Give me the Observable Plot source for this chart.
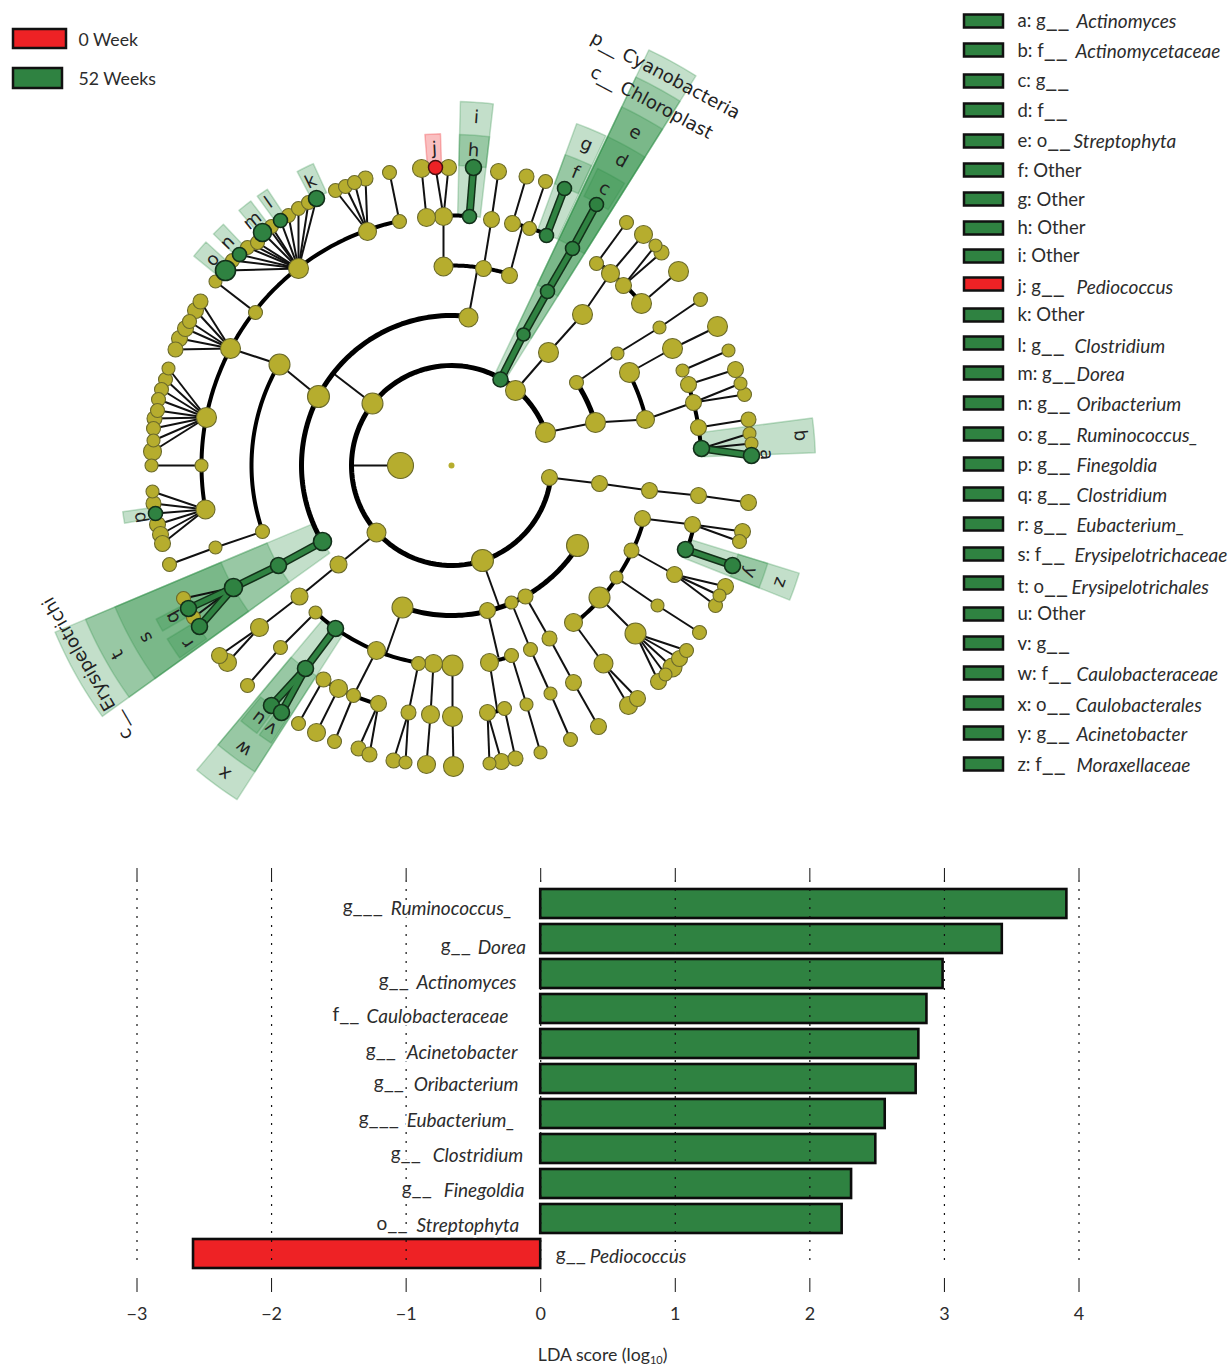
<!DOCTYPE html>
<html><head><meta charset="utf-8">
<script src="https://cdn.jsdelivr.net/npm/d3@7"></script>
<script src="https://cdn.jsdelivr.net/npm/@observablehq/plot@0.6"></script>
<style>html,body{margin:0;padding:0;background:#fff}svg{display:block}</style>
</head><body><div id="clado"></div><div id="bars"></div>
<script>
// ---------- colours
const OLIVE="#b6ad2e", GREEN="#2f8241", RED="#ee2225", WEDGE="#2f9148";
// ---------- LDA bars
const barNames=["Ruminococcus_","Dorea","Actinomyces","Caulobacteraceae","Acinetobacter","Oribacterium","Eubacterium_","Clostridium","Finegoldia","Streptophyta","Pediococcus"];
const barPrefix=["g___","g__","g__","f__","g__","g__","g___","g__","g__","o__","g__"];
const barScores=[3.91,3.43,2.99,2.87,2.81,2.79,2.56,2.49,2.31,2.24,-2.58];
const prefixAt=[-1.472,-.743,-1.204,-1.547,-1.30,-1.24,-1.353,-1.115,-1.033,-1.22,.112];
const nameAt=[-1.115,-.468,-.923,-1.294,-.996,-.944,-.996,-.803,-.721,-.923,.364];
const labelDrop=[5,9,9,8,9,6,7,7,7,7,3];
const scoreTicks=[-3,-2,-1,0,1,2,3,4];
// ---------- legends
const groupNames=["0 Week","52 Weeks"];
const legendKeys=["a: g__","b: f__","c: g__","d: f__","e: o__","f: Other","g: Other","h: Other","i: Other","j: g__","k: Other","l: g__","m: g__","n: g__","o: g__","p: g__","q: g__","r: g__","s: f__","t: o__","u: Other","v: g__","w: f__","x: o__","y: g__","z: f__"];
const legendTaxa=["Actinomyces","Actinomycetaceae","","","Streptophyta","","","","","Pediococcus","","Clostridium","Dorea","Oribacterium","Ruminococcus_","Finegoldia","Clostridium","Eubacterium_","Erysipelotrichaceae","Erysipelotrichales","","","Caulobacteraceae","Caulobacterales","Acinetobacter","Moraxellaceae"];
const legendTaxaX=[1076,1075,0,0,1073,0,0,0,0,1076,0,1074,1076,1076,1076,1076,1076,1076,1074,1071,0,0,1076,1075,1076,1076];
const legendSwatchY=[21,50,81,110,141,170,199,228,256,284,315,343,373,403,434,464,494,524,554,583,614,643,673,703,733,764];
const legendTextY=[21,51,81,111,141,171,200,228,256,287,315,346,374,404,435,465,495,525,555,587,614,644,674,705,734,765];
// ---------- cladogram: nodes on rings [x,y,r]
const CX=451, CY=465;
const ringNodes=[[372,403,10.5],[515,390,10],[545,432,10],[549,477,8],[482,560,11],[376,532,9.5],
[318,396,11],[468,317,9.5],[402,607,10.5],[487,610,8],[511,602,6.5],[525,596,7.5],[577,545,11],[595,422,10],[576,382,7],
[443,266,9.5],[483,268,8],[509,275,8],[645,419,9],[629,372,10],[262,531,7],[376,650,9],[418,663,7],[433,663,9],[452,665,10.5],[489,662,9],[511,655,7],[573,622,9],[599,597,10.5],[616,577,6.5],[631,550,7.5],[642,518,8],[315,612,6.5],
[206,417,10],[230,348,10],[255,312,7],[298,268,10],[367,231,9],[399,221,7],[201,465,6.5],[205,509,9.5],[443,216,9],[426,217,9],[512,223,8],[529,228,7],[323,679,7.5],[338,688,9],[353,695,7],[378,703,8],[487,712,8],[504,708,7],[596,263,7],[610,273,9],[623,285,8],[641,303,10],[682,370,6.5],[688,384,8],[693,402,8],[698,427,8],[692,524,8]];
// ---------- thin branches: parent x,y then children [x,y,r] (r 0 = a joint on a ring)
const fans=[
[350,465,[[400,465,13]]],[372,403,[[333,373,0]]],[318,396,[[279,364,10.5]]],[279,364,[[230,348,0]]],[255,312,[[215,281,6.5]]],
[298,268,[[232,260,7],[247,247,7],[257,242,7],[288,215,7],[298,208,7],[308,202,7],[271,226,7],[252,244,0],[270,230,0],[225,270,0],[239,254,0],[262,232,0],[280,220,0],[316,198,0]]],
[230,348,[[175,349,7.5],[179,338,8],[185,328,8],[189,321,7],[195,310,8],[200,301,7.5]]],
[206,417,[[168,368,6.5],[165,379,7],[161,389,7],[158,399,7],[157,410,7],[154,418,7.5],[153,428,7],[153,440,6.5],[152,451,9]]],
[201,465,[[151,465,6.5]]],
[205,509,[[152,491,6.5],[153,503,7.5],[157,524,8],[160,534,8],[162,543,8],[155,513,0]]],
[262,531,[[215,547,6.5]]],[215,547,[[169,564,7]]],
[377,532,[[338,564,8.5]]],[338,564,[[299,596,8.5]]],[299,596,[[259,627,9]]],[259,627,[[219,655,8],[227,662,9]]],
[315,612,[[280,647,7]]],[280,647,[[247,685,7]]],
[233,587,[[183,598,7],[193,617,7]]],
[376,650,[[353,695,0]]],[323,679,[[298,723,7]]],[338,688,[[316,732,9]]],[353,695,[[334,741,7]]],[378,703,[[358,748,7.5],[369,754,7.5]]],
[418,663,[[408,712,7.5]]],[408,712,[[393,760,7.5],[405,762,6.5]]],[433,663,[[430,714,9]]],[430,714,[[426,764,9]]],[452,665,[[452,716,10]]],[452,716,[[453,766,10]]],
[402,607,[[385,655,0]]],[482,560,[[499,607,0]]],[487,610,[[498,657,0]]],[489,662,[[497,711,0]]],[487,712,[[489,763,6.5],[501,761,8]]],[504,708,[[515,758,7.5]]],
[511,655,[[526,704,6.5]]],[526,704,[[540,752,6.5]]],
[511,602,[[530,649,7]]],[530,649,[[550,693,6.5]]],[550,693,[[570,739,7]]],
[525,596,[[549,638,7.5]]],[549,638,[[573,682,8]]],[573,682,[[598,726,8]]],
[573,622,[[603,663,9.5]]],[603,663,[[628,705,9],[637,698,8]]],
[599,597,[[635,633,10.5]]],[635,633,[[686,650,7],[679,658,8],[672,667,9.5],[665,674,6.5],[658,681,8]]],
[616,577,[[657,605,6.5]]],[657,605,[[699,632,7]]],
[631,550,[[674,574,8]]],[674,574,[[725,586,8],[719,595,6.5],[715,605,7]]],
[642,518,[[692,524,0]]],[692,524,[[742,531,8],[739,541,7]]],
[549,477,[[599,483,8]]],[599,483,[[649,490,8]]],[649,490,[[698,495,8]]],[698,495,[[748,502,8]]],
[545,432,[[595,422,0]]],[595,422,[[645,419,0]]],[645,419,[[693,402,0]]],
[576,382,[[617,353,6.5]]],[617,353,[[659,327,6.5]]],[659,327,[[700,299,7]]],
[629,372,[[672,348,10]]],[672,348,[[717,326,10]]],[682,370,[[728,350,6.5]]],[688,384,[[735,369,8]]],[693,402,[[740,383,6.5],[744,394,7]]],
[698,427,[[748,419,7.5]]],[701,448,[[749,433,6.5],[751,443,6.5]]],
[515,390,[[548,352,10]]],[548,352,[[582,314,10]]],[582,314,[[610,273,0]]],[610,273,[[643,234,9]]],[596,263,[[626,222,7]]],[623,285,[[655,245,6.5],[661,252,7.5]]],[641,303,[[678,271,10]]],
[468,317,[[477,268,0]]],[483,268,[[491,219,8]]],[491,219,[[498,171,8]]],[509,275,[[522,226,0]]],[512,223,[[526,176,7.5]]],[529,228,[[545,181,7]]],
[443,266,[[443,216,0]]],[443,216,[[435,167,0],[448,167,8]]],[426,217,[[421,168,9]]],
[399,221,[[389,172,7]]],[367,231,[[335,190,7],[345,186,7],[354,182,7],[365,178,7.5]]]];
// ---------- thick ring arcs: radius, from x,y, to x,y, width
const ringArcs=[[100,545,432,372,403,5],[100,372,403,376,532,5],[100,376,532,549,477,5],
[150,468,317,318,396,5],[150,318,396,322,541,5],[150,402,607,525,596,5],[150,525,596,577,545,5],[150,595,422,576,382,5],
[200,279,364,262,531,4],[200,443,266,509,275,4],[200,315,612,452,665,4],[200,489,662,511,655,4],[200,573,622,642,518,4],[200,645,419,629,372,4],
[250,205,509,206,417,4],[250,206,417,399,221,4],[250,512,223,546,235,4],[250,323,679,378,703,4],[250,487,712,504,708,4],[250,596,263,641,303,4],[250,688,384,701,448,4],[250,692,524,685,549,4],[250,443,216,469,216,4]];
// ---------- enriched nodes and their branches
const greenNodes=[[500,379,7.5],[523,334,6.5],[547,291,7],[572,248,7],[596,204,7],[546,235,7],[564,188,7],[469,216,7],[473,167,8],[316,198,8],[280,220,7],[262,232,9],[239,254,7],[225,270,10],[155,513,7],[322,541,9],[278,565,8],[233,587,9],[188,608,8],[199,626,8],[335,628,8],[305,668,8],[271,705,8],[281,712,8],[685,549,8],[732,565,8],[701,448,8],[751,455,8]];
const redNodes=[[435,167,7]];
const greenLinks=[[500,379,523,334],[523,334,547,291],[547,291,572,248],[572,248,596,204],[546,235,564,188],[469,216,473,167],[322,541,278,565],[278,565,233,587],[233,587,188,608],[233,587,199,626],[335,628,305,668],[305,668,271,705],[305,668,281,712],[685,549,732,565],[701,448,751,455]];
// ---------- shaded sectors: first angle, last angle (deg), inner, outer radius, colour
const sectors=[[-64.6,-57.9,100,460,WEDGE],[-64.6,-57.9,150,430,WEDGE],[-64.6,-57.9,200,397,WEDGE],[-64.6,-57.9,250,364,WEDGE],[-63.8,-58.5,300,331,WEDGE],
[-69.9,-64.9,250,364,WEDGE],[-69.9,-65,300,331,WEDGE],[-88.6,-83.4,250,364,WEDGE],[-88.6,-83.4,300,331,WEDGE],[-94.6,-91.9,298,332,RED],
[-117.7,-114.6,300,332,WEDGE],[-125.8,-123.7,300,332,WEDGE],[-129.8,-127.2,300,332,WEDGE],[-135.8,-133.4,300,332,WEDGE],[-140.9,-137.7,300,332,WEDGE],[170,172,300,332,WEDGE],
[144.3,157.2,150,430,WEDGE],[144.3,157.2,200,397,WEDGE],[144.3,157.2,250,365,WEDGE],[150.2,152.5,300,333,WEDGE],[144.7,148.6,300,333,WEDGE],
[122.7,129.9,200,397,WEDGE],[122.7,129.9,250,364,WEDGE],[126,129.5,300,331,WEDGE],[123,125.5,300,331,WEDGE],
[17.2,21.7,250,364,WEDGE],[17.2,21.7,300,331,WEDGE],[-7.5,-2,250,364,WEDGE]];
// ---------- clade letters and long names
const cladeLetters=["a","b","c","d","e","f","g","h","i","j","k","l","m","n","o","p","q","r","s","t","u","v","w","x","y","z"];
const cladeLetterX=[766,800,604,621,635,575,586,473,476,434,310,268,252,227,212,139,172,187,145,117,258,270,243,224,750,780];
const cladeLetterY=[454,435,188,160,132,172,144,150,117,148,181,202,220,242,259,517,617,643,637,654,718,728,748,773,572,582];
const longLabels=["p__ Cyanobacteria","c__ Chloroplast","c__ Erysipelotrichi"];
const longX=[665,651,87], longY=[75,102,668], longRot=[28,28,240];

// ---------- derived tables
const nodeObj=([x,y,r])=>({x,y,r});
const oliveNodes=[...ringNodes,...fans.flatMap(f=>f[2].filter(c=>c[2]>0))].map(nodeObj);
const edges=fans.flatMap(([x1,y1,kids])=>kids.map(([x2,y2])=>({x1,y1,x2,y2})));
const polar=(r,a)=>({x:CX+r*Math.cos(a*Math.PI/180),y:CY+r*Math.sin(a*Math.PI/180)});
const angleOf=(x,y)=>Math.atan2(y-CY,x-CX)*180/Math.PI;
const arcPts=ringArcs.flatMap(([r,x0,y0,x1,y1,w],id)=>{
  const a0=angleOf(x0,y0);let d=angleOf(x1,y1)-a0;d=((d+540)%360)-180;
  return d3.range(0,41).map(i=>({...polar(r,a0+d*i/40),id,w}));
});
const sectorPts=sectors.flatMap(([a0,a1,r0,r1,color],id)=>{
  const n=Math.ceil(Math.abs(a1-a0));const as=d3.range(0,n+1).map(i=>a0+(a1-a0)*i/n);
  return [...as.map(a=>polar(r1,a)),...as.reverse().map(a=>polar(r0,a))].map(p=>({...p,id,color}));
});
const legendRows=legendKeys.map((key,i)=>({key,taxon:legendTaxa[i],tx:legendTaxaX[i],sy:legendSwatchY[i],ty:legendTextY[i],fill:key.startsWith("j")?RED:GREEN}));
const rows=barNames.map((name,i)=>({name,prefix:barPrefix[i],score:barScores[i],p:prefixAt[i],n:nameAt[i],drop:labelDrop[i],fill:barScores[i]<0?RED:GREEN}));
const TXT="#2c2c2c", UI="Lato", MPL="DejaVu Sans";
const link=(opts)=>Plot.link(greenLinks,{x1:d=>d[0],y1:d=>d[1],x2:d=>d[2],y2:d=>d[3],...opts});

const clado=Plot.plot({width:1228,height:830,margin:0,
  x:{domain:[0,1228],range:[0,1228],axis:null},
  y:{domain:[0,830],range:[0,830],axis:null},
  r:{type:"identity"},
  marks:[
    Plot.line(sectorPts,{x:"x",y:"y",z:"id",fill:"color",stroke:"color",fillOpacity:.29,strokeOpacity:.28,strokeWidth:1.5,curve:"linear-closed"}),
    Plot.link(edges,{x1:"x1",y1:"y1",x2:"x2",y2:"y2",stroke:"#111",strokeWidth:2}),
    Plot.line(arcPts,{x:"x",y:"y",z:"id",strokeWidth:"w",stroke:"#000",curve:"linear"}),
    link({stroke:"#123018",strokeWidth:8}),
    link({stroke:GREEN,strokeWidth:5}),
    Plot.dot(oliveNodes,{x:"x",y:"y",r:"r",fill:OLIVE,stroke:"#6b6a2a",strokeWidth:1.1}),
    Plot.dot([{x:CX,y:CY,r:3}],{x:"x",y:"y",r:"r",fill:OLIVE}),
    Plot.dot(greenNodes.map(nodeObj),{x:"x",y:"y",r:"r",fill:GREEN,stroke:"#12301a",strokeWidth:1.6}),
    Plot.dot(redNodes.map(nodeObj),{x:"x",y:"y",r:"r",fill:RED,stroke:"#4a1010",strokeWidth:1.5}),
    Plot.text(cladeLetters,{x:(d,i)=>cladeLetterX[i],y:(d,i)=>cladeLetterY[i],text:d=>d,
      rotate:(d,i)=>angleOf(cladeLetterX[i],cladeLetterY[i])+90,fontFamily:MPL,fontSize:18,fill:"#222"}),
    Plot.text(longLabels,{x:(d,i)=>longX[i],y:(d,i)=>longY[i],text:d=>d,rotate:(d,i)=>longRot[i],fontFamily:MPL,fontSize:18,fill:"#222"}),
    // group legend
    Plot.rect(groupNames,{x1:()=>13,x2:(d,i)=>i?62:66,y1:(d,i)=>i?68:29,y2:(d,i)=>i?88:48,fill:(d,i)=>i?GREEN:RED,stroke:"#111",strokeWidth:2.5}),
    Plot.text(groupNames,{x:()=>78,y:(d,i)=>i?79:40,text:d=>d,textAnchor:"start",fontFamily:UI,fontSize:17.7,fill:TXT}),
    // letter legend
    Plot.rect(legendRows,{x1:()=>964,x2:()=>1003,y1:d=>d.sy-6.5,y2:d=>d.sy+6.5,fill:"fill",stroke:"#111",strokeWidth:2.5}),
    Plot.text(legendRows,{x:()=>1017,y:"ty",text:"key",textAnchor:"start",fontFamily:UI,fontSize:18.5,fill:TXT}),
    Plot.text(legendRows.filter(d=>d.taxon),{x:"tx",y:"ty",text:"taxon",textAnchor:"start",fontFamily:UI,fontStyle:"italic",fontSize:19,fill:TXT})
  ]});
document.getElementById("clado").append(clado);

const bars=Plot.plot({width:1228,height:537,marginLeft:136.5,marginRight:149.5,marginTop:38,marginBottom:89,
  x:{domain:[-3,4],axis:null},
  y:{type:"band",domain:barNames,range:[58,439],paddingInner:.165,paddingOuter:0,axis:null},
  marks:[
    Plot.barX(rows,{x:"score",y:"name",fill:"fill",stroke:"#0c0c0c",strokeWidth:2.6}),
    Plot.ruleX(scoreTicks,{stroke:"#111",strokeWidth:1.2,strokeDasharray:"2 7",insetTop:12,insetBottom:13}),
    Plot.ruleX(scoreTicks,{stroke:"#111",strokeWidth:1,insetBottom:398}),
    Plot.axisX({ticks:scoreTicks,tickFormat:"d",tickSize:14,tickPadding:15,label:null,fontFamily:UI,fontSize:18,color:TXT,stroke:"#111",textStroke:"none"}),
    Plot.text(rows,{x:"n",y:"name",text:"name",textAnchor:"start",fontFamily:UI,fontStyle:"italic",fontSize:19,fill:TXT,stroke:"white",strokeWidth:5,className:"row-name"}),
    Plot.text(rows,{x:"p",y:"name",text:"prefix",textAnchor:"start",fontFamily:UI,fontSize:19,fill:TXT,stroke:"white",strokeWidth:5,className:"row-prefix"}),
    Plot.text(["LDA score (log10)"],{x:()=>.46,frameAnchor:"bottom",dy:82,text:d=>d,fontFamily:UI,fontSize:17.7,fill:TXT})
  ]});
document.getElementById("bars").append(bars);
// per-row label drop, long underscores, and the subscript of the axis title
const nudge=(cls,less)=>bars.querySelectorAll(`.${cls} text`).forEach((t,i)=>{
  t.setAttribute("transform",(t.getAttribute("transform")||"")+` translate(0,${labelDrop[i]-less})`);
});
nudge("row-name",0); nudge("row-prefix",2);
const stretch=(t,size)=>{t.innerHTML=t.textContent.replace(/_{2,}/,m=>`<tspan font-size="${size}">${m}</tspan>`);};
bars.querySelectorAll(".row-prefix text").forEach(t=>stretch(t,22));
clado.querySelectorAll("text").forEach(t=>{ if(/^[a-z]: [a-z]__$/.test(t.textContent)) stretch(t,26); });
bars.querySelectorAll("text").forEach(t=>{
  if(t.textContent==="LDA score (log10)"){
    t.innerHTML='LDA score (log<tspan dy="3.5" font-size="11">10</tspan><tspan dy="-3.5">)</tspan>';
  }
});
</script></body></html>
